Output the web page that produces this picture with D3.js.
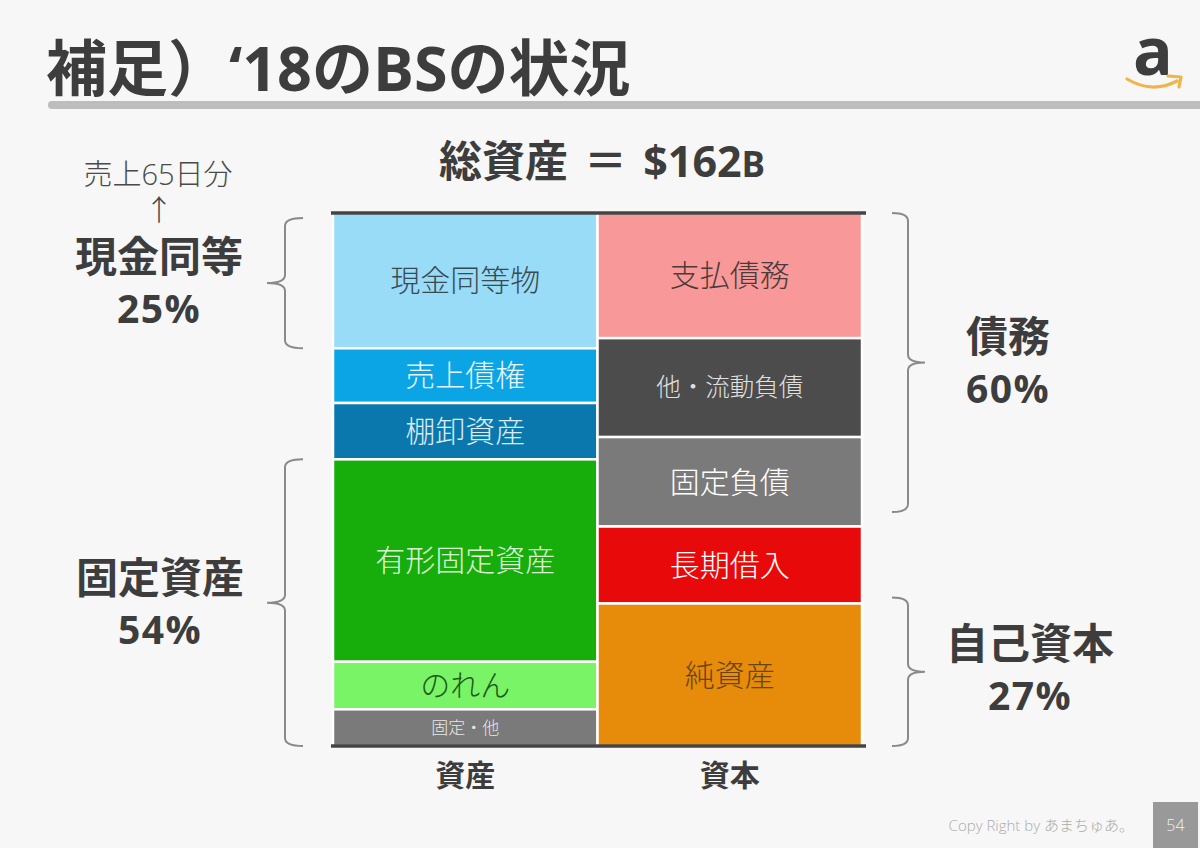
<!DOCTYPE html>
<html lang="ja">
<head>
<meta charset="utf-8">
<script src="https://cdn.jsdelivr.net/npm/d3@7"></script>
<style>
  html, body { margin: 0; padding: 0; background: #f7f7f7; }
  svg { display: block; }
  text { font-family: "Noto Sans CJK JP", "Noto Sans", sans-serif; }
  text.os { font-family: "Open Sans", "Noto Sans CJK JP", sans-serif; }
</style>
</head>
<body>
<svg id="chart" width="1200" height="848"></svg>
<script>
// ---- data ($B, FY2018) ----
const categories = ["資産", "資本"];
const assetLabels = ["現金同等物", "売上債権", "棚卸資産", "有形固定資産", "のれん", "固定・他"];
const assetValues = [41.3, 16.7, 17.2, 61.8, 14.5, 11.2];
const liabLabels = ["支払債務", "他・流動負債", "固定負債", "長期借入", "純資産"];
const liabValues = [38.2, 30.2, 27.3, 23.5, 43.5];
const totalLabel = "総資産 ＝ $162";
const totalUnit = "B";
const groupNames = ["現金同等", "固定資産", "債務", "自己資本"];
const groupPcts = ["25%", "54%", "60%", "27%"];
const groupSpans = [[121.4, 161.2], [0, 87.5], [71.4, 162.7], [0, 45.3]]; // in $B, brace extent
const noteText = "売上65日分";

// ---- styles ----
const assetColors = ["#99dcf7", "#0ba4e5", "#0a78ad", "#17ad0b", "#78f466", "#7a7a7a"];
const assetText = ["#3a4a52", "#e6f6fd", "#dcecf5", "#dcf5d5", "#1f5a18", "#e8e8e8"];
const assetFont = [30, 30, 30, 30, 30, 17];
const liabColors = ["#f99898", "#4c4c4c", "#7a7a7a", "#e80a0a", "#e68c0a"];
const liabText = ["#4a3a3a", "#e0e0e0", "#ffffff", "#ffffff", "#6a4410"];
const liabFont = [30, 24.5, 30, 30, 30];
const dark = "#3d3d3d";

const svg = d3.select("#chart");

// background
svg.append("rect").attr("width", 1200).attr("height", 848).attr("fill", "#f7f7f7");

// title
svg.append("text").attr("class", "os").attr("x", 46).attr("y", 91)
  .attr("font-size", 61).attr("font-weight", 700).attr("fill", dark)
  .text("補足）‘18のBSの状況");
svg.append("line").attr("x1", 52).attr("x2", 1210).attr("y1", 105).attr("y2", 105)
  .attr("stroke", "#bdbdbd").attr("stroke-width", 8).attr("stroke-linecap", "round");

// amazon-like logo
svg.append("text").attr("class", "os").attr("x", 1153).attr("y", 75).attr("text-anchor", "middle")
  .attr("font-size", 66).attr("font-weight", 700).attr("fill", dark).text("a");
svg.append("path")
  .attr("d", "M1127,79 Q1152,94 1177,81 M1168,76 L1181,77 L1179,87")
  .attr("fill", "none").attr("stroke", "#f0b44c").attr("stroke-width", 3.2)
  .attr("stroke-linecap", "round").attr("stroke-linejoin", "round");

// total label
const tl = svg.append("text").attr("class", "os").attr("x", 602).attr("y", 177).attr("text-anchor", "middle")
  .attr("font-size", 43).attr("font-weight", 700).attr("fill", dark).attr("word-spacing", 5);
tl.append("tspan").text(totalLabel);
tl.append("tspan").attr("font-size", 35).text(totalUnit);

// scales
const total = d3.sum(assetValues);
const x = d3.scaleBand().domain(categories).range([333, 862]).padding(0);
const y = d3.scaleLinear().domain([0, total]).range([746, 213]);

function stack(values) {
  let acc = total;
  return values.map(v => { const top = acc; acc -= v; return { top, bottom: acc }; });
}

function drawColumn(cat, labels, values, colors, textColors, fonts) {
  const s = stack(values);
  const g = svg.append("g");
  const data = labels.map((l, i) => ({ l, v: values[i], ...s[i], c: colors[i], t: textColors[i], f: fonts[i] }));
  g.selectAll("rect").data(data).join("rect")
    .attr("x", x(cat)).attr("width", x.bandwidth())
    .attr("y", d => y(d.top)).attr("height", d => y(d.bottom) - y(d.top))
    .attr("fill", d => d.c).attr("stroke", "#ffffff").attr("stroke-width", 2.5);
  g.selectAll("text").data(data).join("text")
    .attr("x", x(cat) + x.bandwidth() / 2)
    .attr("y", d => (y(d.top) + y(d.bottom)) / 2)
    .attr("dy", "0.36em").attr("text-anchor", "middle")
    .attr("font-size", d => d.f).attr("font-weight", 300).attr("fill", d => d.t)
    .text(d => d.l);
}
drawColumn(categories[0], assetLabels, assetValues, assetColors, assetText, assetFont);
drawColumn(categories[1], liabLabels, liabValues, liabColors, liabText, liabFont);

// top & bottom rules
[total, 0].forEach(v => {
  svg.append("line").attr("x1", x.range()[0] - 2).attr("x2", x.range()[1] + 4)
    .attr("y1", y(v)).attr("y2", y(v)).attr("stroke", "#444").attr("stroke-width", 3.5);
});

// category labels
svg.selectAll("text.cat").data(categories).join("text").attr("class", "cat")
  .attr("x", d => x(d) + x.bandwidth() / 2)
  .attr("y", 786).attr("text-anchor", "middle")
  .attr("font-size", 30).attr("font-weight", 700).attr("fill", dark).text(d => d);

// braces
function brace(xv, tipDx, endDx, y0, y1) {
  const m = (y0 + y1) / 2, r = 8;
  return `M${xv + endDx},${y0} Q${xv},${y0} ${xv},${y0 + r} L${xv},${m - r} Q${xv},${m} ${xv + tipDx},${m}` +
         ` Q${xv},${m} ${xv},${m + r} L${xv},${y1 - r} Q${xv},${y1} ${xv + endDx},${y1}`;
}
const braceSide = [
  { xv: 285, tip: -18, end: 18, cx: 159 },
  { xv: 285, tip: -18, end: 18, cx: 160 },
  { xv: 908, tip: 17, end: -16, cx: 1008 },
  { xv: 908, tip: 17, end: -16, cx: 1030 }
];
groupSpans.forEach((sp, i) => {
  const b = braceSide[i];
  const y0 = y(sp[1]), y1 = y(sp[0]);
  svg.append("path").attr("d", brace(b.xv, b.tip, b.end, y0, y1))
    .attr("fill", "none").attr("stroke", "#8a8a8a").attr("stroke-width", 2);
});

// group labels (two-line text)
const groupBase = [272, 593, 352, 659];
groupNames.forEach((n, i) => {
  const b = braceSide[i];
  const t = svg.append("text").attr("class", "os").attr("x", b.cx).attr("y", groupBase[i]).attr("text-anchor", "middle")
    .attr("font-size", 42).attr("font-weight", 700).attr("fill", dark);
  t.append("tspan").attr("x", b.cx).text(n);
  t.append("tspan").attr("x", b.cx).attr("dy", 51).attr("font-size", 39)
    .attr("letter-spacing", 1.5).text(groupPcts[i]);
});

// note above cash
const note = svg.append("text").attr("class", "os").attr("x", 158).attr("y", 185).attr("text-anchor", "middle")
  .attr("font-size", 29).attr("font-weight", 300).attr("fill", "#4a4a4a");
note.append("tspan").attr("x", 158).text(noteText);
note.append("tspan").attr("x", 159).attr("dy", 36).text("↑");

// footer
svg.append("text").attr("class", "os").attr("x", 1134).attr("y", 831).attr("text-anchor", "end")
  .attr("font-size", 15).attr("font-weight", 300).attr("fill", "#ababab")
  .text("Copy Right by あまちゅあ。");
svg.append("rect").attr("x", 1153).attr("y", 802).attr("width", 45).attr("height", 46).attr("fill", "#999999");
svg.append("text").attr("class", "os").attr("x", 1175.5).attr("y", 831).attr("text-anchor", "middle")
  .attr("font-size", 16).attr("font-weight", 300).attr("fill", "#f0f0f0").text("54");
</script>
</body>
</html>
